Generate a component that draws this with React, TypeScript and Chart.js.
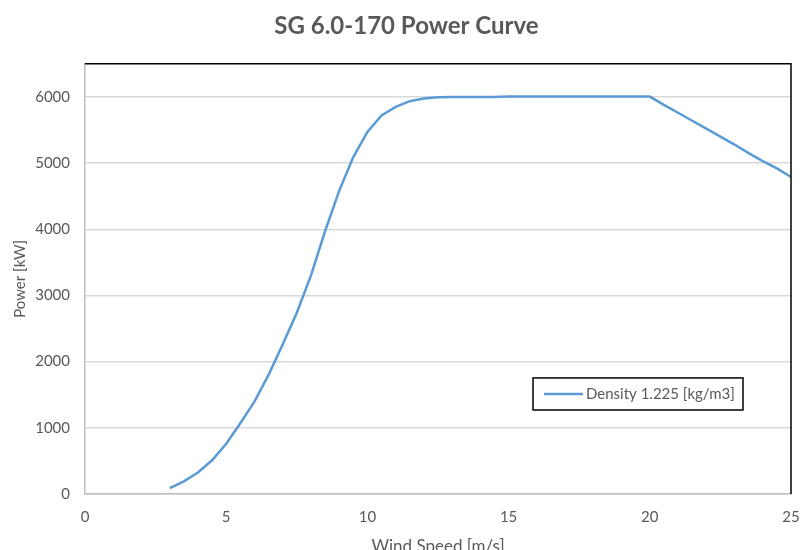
import { useEffect, useRef } from 'react';
import { Chart, registerables } from 'chart.js';

Chart.register(...registerables);

const chartTitle = 'SG 6.0-170 Power Curve';
const xTitle = 'Wind Speed [m/s]';
const yTitle = 'Power [kW]';
const seriesLabel = 'Density 1.225 [kg/m3]';

const windSpeeds = [
  3, 3.5, 4, 4.5, 5, 5.5, 6, 6.5, 7, 7.5, 8, 8.5, 9, 9.5, 10, 10.5, 11, 11.5, 12, 12.5,
  13, 13.5, 14, 14.5, 15, 15.5, 16, 16.5, 17, 17.5, 18, 18.5, 19, 19.5, 20,
  20.5, 21, 21.5, 22, 22.5, 23, 23.5, 24, 24.5, 25,
];
const powerKW = [
  90, 190, 325, 510, 760, 1070, 1395, 1800, 2260, 2740, 3300, 3970, 4580, 5090, 5470, 5720, 5850, 5935, 5975, 5995,
  5997, 5998, 5998, 5999, 6005, 6005, 6005, 6005, 6005, 6005, 6005, 6005, 6005, 6005, 6005,
  5880, 5760, 5640, 5520, 5400, 5280, 5150, 5030, 4920, 4790,
];

const xTicks = [0, 5, 10, 15, 20, 25];
const yTicks = [0, 1000, 2000, 3000, 4000, 5000, 6000];
const xMin = 0;
const xMax = 25;
const yMin = 0;
const yMax = 6500;

const TEXT = '#595959';
const GRID = '#d9d9d9';
const LINE = '#5b9bd5';
const FONT = 'Lato';

const framePlugin = {
  id: 'frame',
  afterDatasetsDraw(chart: any) {
    const { ctx, chartArea: a } = chart;
    ctx.save();
    ctx.strokeStyle = '#000';
    ctx.lineWidth = 1.5;
    ctx.beginPath();
    ctx.moveTo(a.left, a.top);
    ctx.lineTo(a.right, a.top);
    ctx.lineTo(a.right, a.bottom);
    ctx.stroke();
    ctx.restore();
  },
};

const boxLegendPlugin = {
  id: 'boxLegend',
  afterDraw(chart: any) {
    const { ctx, chartArea: a } = chart;
    const ds = chart.data.datasets[0];
    const w = a.right - a.left;
    const h = a.bottom - a.top;
    const x0 = a.left + w * 0.6346;
    const x1 = a.left + w * 0.932;
    const y0 = a.top + h * 0.7302;
    const y1 = a.top + h * 0.8047;
    ctx.save();
    ctx.fillStyle = '#fff';
    ctx.fillRect(x0, y0, x1 - x0, y1 - y0);
    ctx.strokeStyle = '#000';
    ctx.lineWidth = 1.5;
    ctx.strokeRect(x0, y0, x1 - x0, y1 - y0);
    const cy = (y0 + y1) / 2;
    ctx.strokeStyle = ds.borderColor;
    ctx.lineWidth = 2.5;
    ctx.beginPath();
    ctx.moveTo(x0 + 11, cy);
    ctx.lineTo(x0 + 50, cy);
    ctx.stroke();
    ctx.fillStyle = TEXT;
    ctx.font = `15px ${FONT}`;
    ctx.textBaseline = 'middle';
    ctx.textAlign = 'left';
    ctx.fillText(ds.label, x0 + 53, cy);
    ctx.restore();
  },
};

export default function App() {
  const ref = useRef<HTMLCanvasElement | null>(null);

  useEffect(() => {
    if (!ref.current) return;
    const chart = new Chart(ref.current, {
      type: 'scatter',
      data: {
        datasets: [
          {
            label: seriesLabel,
            data: windSpeeds.map((x, i) => ({ x, y: powerKW[i] })),
            showLine: true,
            borderColor: LINE,
            backgroundColor: LINE,
            borderWidth: 2.5,
            pointRadius: 0,
            tension: 0,
          },
        ],
      },
      options: {
        responsive: false,
        animation: false,
        layout: { padding: 0 },
        plugins: {
          legend: { display: false },
          tooltip: { enabled: false },
          title: {
            display: true,
            text: chartTitle,
            color: TEXT,
            font: { family: FONT, size: 24, weight: 'bold' },
            padding: { top: 12, bottom: 23 },
          },
        },
        scales: {
          x: {
            type: 'linear',
            min: xMin,
            max: xMax,
            grid: { display: false, drawTicks: false },
            border: { display: true, color: '#bfbfbf', width: 1.5 },
            ticks: {
              color: TEXT,
              padding: 14,
              font: { family: FONT, size: 15 },
              callback: (v: any) => String(v),
            },
            afterBuildTicks(axis: any) {
              axis.ticks = xTicks.map((value) => ({ value }));
            },
            title: {
              display: true,
              text: xTitle,
              color: TEXT,
              font: { family: FONT, size: 17 },
              padding: { top: 0, bottom: 5 },
            },
            afterFit(axis: any) {
              axis.height = 68;
              axis.paddingLeft = 0;
              axis.paddingRight = 22;
            },
          },
          y: {
            type: 'linear',
            min: yMin,
            max: yMax,
            grid: { color: GRID, lineWidth: 1.5, drawTicks: false },
            border: { display: true, color: '#bfbfbf', width: 1.5 },
            ticks: {
              color: TEXT,
              padding: 15,
              font: { family: FONT, size: 15 },
              callback: (v: any) => String(v),
            },
            afterBuildTicks(axis: any) {
              axis.ticks = yTicks.map((value) => ({ value }));
            },
            title: {
              display: true,
              text: yTitle,
              color: TEXT,
              font: { family: FONT, size: 15 },
              padding: { top: 11, bottom: 0 },
            },
            afterFit(axis: any) {
              axis.width = 85;
            },
          },
        },
      },
      plugins: [framePlugin, boxLegendPlugin],
    });
    return () => chart.destroy();
  }, []);

  return (
    <div style={{ position: 'absolute', left: 0, top: 0, width: 801, height: 550, overflow: 'hidden', background: '#fff' }}>
      <canvas ref={ref} width={813} height={562} style={{ display: 'block' }} />
    </div>
  );
}
